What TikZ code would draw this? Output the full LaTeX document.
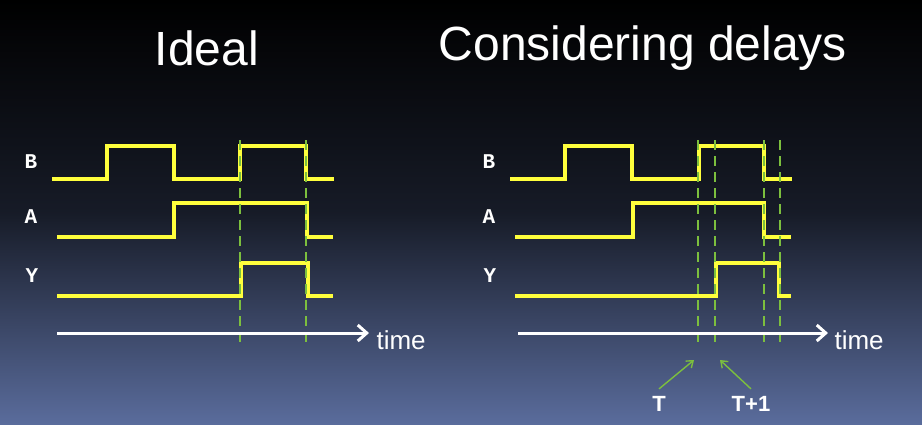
\documentclass[tikz,border=0pt]{standalone}
\usepackage{fontspec}
\setmainfont{Liberation Sans}
\newfontfamily\sigfont{Liberation Mono}
\usetikzlibrary{arrows.meta}
\definecolor{wavecol}{HTML}{FFFF3C}
\definecolor{markcol}{HTML}{7CBF3E}
\definecolor{bgtop}{HTML}{000000}
\definecolor{bgbot}{HTML}{5A6C9C}
\tikzset{
  wave/.style={wavecol, line width=3.8pt},
  cut/.style={markcol, line width=2.4pt, dash pattern=on 10pt off 6pt},
  sig/.style={font=\fontsize{21}{21}\sigfont\bfseries, white},
  axis/.style={white, line width=3pt, -{Straight Barb[length=9pt,width=16pt]}},
  title/.style={font=\fontsize{48}{48}\selectfont, white},
}
\begin{document}
\begin{tikzpicture}[x=1pt,y=-1pt]
\useasboundingbox (0,0) rectangle (922,424);
\shade[top color=bgtop, bottom color=bgbot, middle color=bgtop!75!bgbot] (0,0) rectangle (922,424);

\node[title] (t1) at (207,48) {Ideal};
\node[title] (t2) at (643,48) {Considering delays};

% ideal
\node[sig] (b1) at (31,162) {B};
\node[sig] (a1) at (31,217) {A};
\node[sig] (y1) at (32,276) {Y};
\draw[wave] (52,179) -| (107,146) -| (174,179) -| (240,146) -| (306,179) -- (334,179);
\draw[wave] (57,237) -| (174,203) -| (307,237) -- (333,237);
\draw[wave] (57,296) -| (241,263) -| (308,296) -- (333,296);
\foreach \x in {240,306}
  \draw[cut] (\x,140) -- (\x,342);
\node[white, font=\fontsize{26}{26}\selectfont, anchor=west] (time1) at (373,340) {time};
\coordinate (e1) at (369,333);
\draw[axis] (57,333) -- (e1);

% delays
\node[sig] (b2) at (489,162) {B};
\node[sig] (a2) at (489,217) {A};
\node[sig] (y2) at (490,276) {Y};
\draw[wave] (510,179) -| (565,146) -| (632,179) -| (699,146) -| (764,179) -- (792,179);
\draw[wave] (515,237) -| (633,203) -| (764,237) -- (791,237);
\draw[wave] (515,296) -| (716,263) -| (779,296) -- (791,296);
\foreach \x in {698,715,764,780}
  \draw[cut] (\x,140) -- (\x,342);
\node[white, font=\fontsize{26}{26}\selectfont, anchor=west] (time2) at (831,340) {time};
\coordinate (e2) at (828,333);
\draw[axis] (518,333) -- (e2);

\node[white, font=\fontsize{22}{22}\selectfont\bfseries] (tt) at (659,404) {T};
\node[white, font=\fontsize{22}{22}\selectfont\bfseries] (tt1) at (751,404) {T+1};
\coordinate (p1) at (694,360);
\coordinate (p2) at (720,360);
\draw[markcol, line width=1.4pt, -{Straight Barb[length=6pt,width=9pt]}] (tt.north) ++(0,-4) -- (p1);
\draw[markcol, line width=1.4pt, -{Straight Barb[length=6pt,width=9pt]}] (tt1.north) ++(0,-4) -- (p2);
\end{tikzpicture}
\end{document}
